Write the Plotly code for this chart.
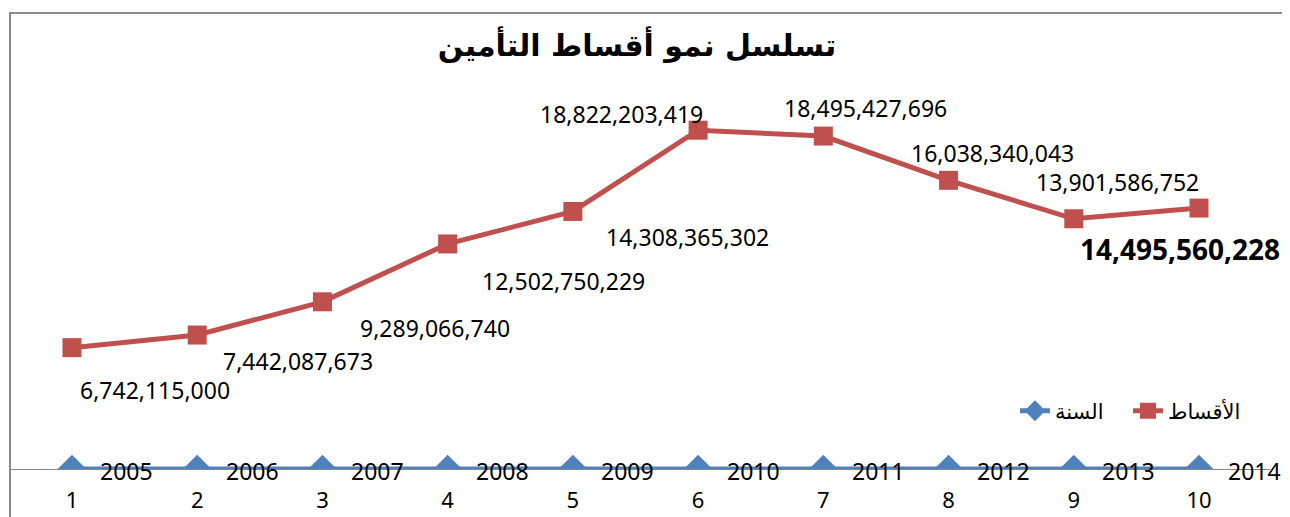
import plotly.graph_objs as go


categories = [1, 2, 3, 4, 5, 6, 7, 8, 9, 10]
years = [2005, 2006, 2007, 2008, 2009, 2010, 2011, 2012, 2013, 2014]
premiums = [6742115000, 7442087673, 9289066740, 12502750229, 14308365302,
            18822203419, 18495427696, 16038340043, 13901586752, 14495560228]

# label offsets (px) for the premium labels, as placed in the original
label_shift_x = [83, 101, 113, 116, 115, -77, 42, 44, 44, -19]
label_shift_y = [-42, -26, -26, -37, -26, 16, 28, 27, 37, -41]

red = '#C0504D'
blue = '#4F81BD'
num_font = 'Noto Sans, Open Sans, sans-serif'
ar_font = 'DejaVu Sans, sans-serif'

# the page body has an 8px margin, so the figure is drawn 8px smaller
# and everything is placed 8px up/left of where it shows in the page
PAGE_PAD = 8

data = []

trace_year = go.Scatter(
    x=categories,
    y=years,
    name='السنة',
    mode='lines+markers',
    line=dict(color=blue, width=5),
    marker=dict(symbol='diamond', size=22, color=blue),
)
data.append(trace_year)

trace_prem = go.Scatter(
    x=categories,
    y=premiums,
    name='الأقساط',
    mode='lines+markers',
    line=dict(color=red, width=5),
    marker=dict(symbol='square', size=19, color=red),
)
data.append(trace_prem)

annotations = []
for i, (c, v) in enumerate(zip(categories, premiums)):
    last = i == len(categories) - 1
    annotations.append(dict(
        x=c, y=v, xref='x', yref='y',
        text='<b>{0:,}</b>'.format(v) if last else '{0:,}'.format(v),
        showarrow=False,
        xshift=label_shift_x[i], yshift=label_shift_y[i],
        font=dict(family=num_font, size=28 if last else 23, color='black'),
    ))

for c, yr in zip(categories, years):
    annotations.append(dict(
        x=c, y=yr, xref='x', yref='y',
        text=str(yr), showarrow=False,
        xshift=55, yshift=-2,
        font=dict(family=num_font, size=23, color='black'),
    ))

layout = go.Layout(
    width=1290 - PAGE_PAD,
    height=517 - PAGE_PAD,
    margin=dict(l=10 - PAGE_PAD, r=20, t=37 - PAGE_PAD, b=48, autoexpand=False),
    paper_bgcolor='white',
    plot_bgcolor='white',
    title=dict(
        text='<b>تسلسل نمو أقساط التأمين</b>',
        x=0.4976, xref='paper', xanchor='center',
        y=1 - (45 - PAGE_PAD) / (517 - PAGE_PAD), yanchor='middle',
        font=dict(family=ar_font, size=30, color='black'),
    ),
    showlegend=True,
    legend=dict(
        orientation='h',
        x=0.7976, xanchor='left',
        y=0.134, yanchor='middle',
        font=dict(family=ar_font, size=21, color='black'),
        bgcolor='rgba(0,0,0,0)',
        traceorder='normal',
        entrywidth=68,
        entrywidthmode='pixels',
    ),
    xaxis=dict(
        range=[0.505, 10.567],
        tickvals=categories,
        ticktext=[str(c) for c in categories],
        showgrid=False,
        zeroline=False,
        showline=True,
        linecolor='#868686',
        linewidth=1,
        ticks='',
        ticklabelstandoff=12,
        tickfont=dict(family=num_font, size=22, color='black'),
        automargin=False,
    ),
    yaxis=dict(
        range=[0, 2.4e10],
        visible=False,
        showgrid=False,
        zeroline=False,
    ),
    annotations=annotations,
    shapes=[dict(
        type='rect', xref='paper', yref='paper',
        x0=0, x1=1.0143, y0=-0.3, y1=1.0556,
        line=dict(color='#8C8C8C', width=2),
        layer='below',
    )],
)

fig = go.Figure(data=data, layout=layout)
fig.write_html('out.html')
